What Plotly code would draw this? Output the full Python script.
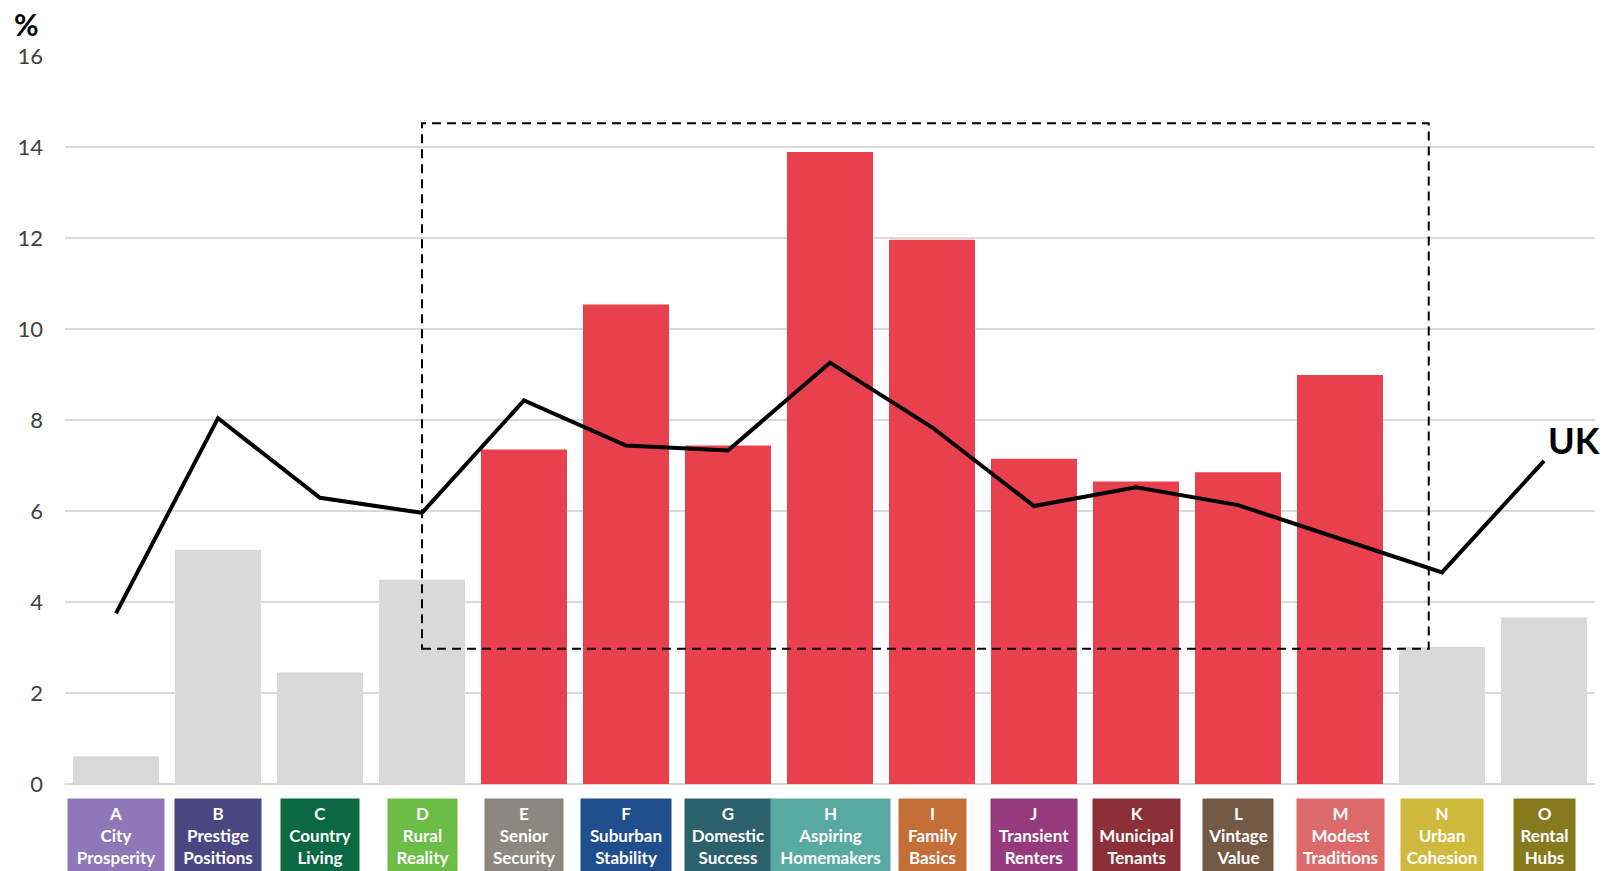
import plotly.graph_objects as go

# ---- data ----
codes = ["A", "B", "C", "D", "E", "F", "G", "H", "I", "J", "K", "L", "M", "N", "O"]
names = ["City<br>Prosperity", "Prestige<br>Positions", "Country<br>Living", "Rural<br>Reality",
         "Senior<br>Security", "Suburban<br>Stability", "Domestic<br>Success", "Aspiring<br>Homemakers",
         "Family<br>Basics", "Transient<br>Renters", "Municipal<br>Tenants", "Vintage<br>Value",
         "Modest<br>Traditions", "Urban<br>Cohesion", "Rental<br>Hubs"]
bar_values = [0.61, 5.15, 2.45, 4.49, 7.35, 10.54, 7.44, 13.89, 11.96, 7.15, 6.65, 6.85, 8.99, 3.01, 3.66]
uk_values = [3.75, 8.04, 6.29, 5.96, 8.43, 7.44, 7.33, 9.26, 7.84, 6.11, 6.52, 6.13, 5.39, 4.65, 7.10]
highlighted = [False, False, False, False, True, True, True, True, True, True, True, True, True, False, False]
y_ticks = [0, 2, 4, 6, 8, 10, 12, 14, 16]
box_x = [3, 12.87]
box_y = [2.97, 14.52]

# ---- styles ----
group_colors = ["#8E78B8", "#4B4582", "#0A6845", "#6CBD45", "#8C8880", "#1F4E8C", "#2C616B",
                "#58AAA0", "#C46F37", "#973A7D", "#8B3036", "#745A45", "#DD6A6A", "#D0BA3E", "#857A1E"]
label_box_widths = [96, 86, 78, 69, 78, 90, 86, 119, 67, 86, 87, 70, 87, 82, 61]
RED = "#E8404C"
GREY = "#D9D9D9"
PAD = 4

x = list(range(len(codes)))
bar_colors = [RED if h else GREY for h in highlighted]

fig = go.Figure()
fig.add_trace(go.Bar(x=x, y=bar_values, marker=dict(color=bar_colors, line=dict(width=0)),
                     showlegend=False, hoverinfo="skip"))
fig.add_trace(go.Scatter(x=x, y=uk_values, mode="lines",
                         line=dict(color="black", width=4), showlegend=False, hoverinfo="skip"))

fig.add_shape(type="rect", xref="x", yref="y", x0=box_x[0], x1=box_x[1], y0=box_y[0], y1=box_y[1],
              line=dict(color="black", width=2, dash="9px,6px"), layer="above")

annotations = []
for i, (c, n, col, w) in enumerate(zip(codes, names, group_colors, label_box_widths)):
    annotations.append(dict(
        x=i, xref="x", y=-0.0192, yref="paper", yanchor="top", xanchor="center",
        text=f"<b>{c}<br>{n}</b>", showarrow=False, align="center",
        font=dict(family="Lato", size=17, color="white"),
        bgcolor=col, borderpad=PAD, width=w - 2 * PAD,
    ))
annotations.append(dict(x=0.008, xref="paper", xanchor="left", y=1.0, yref="paper", yanchor="bottom",
                        xshift=-65, yshift=12, text="<b>%</b>", showarrow=False,
                        font=dict(family="Lato", size=30, color="black")))
annotations.append(dict(x=14.02, xref="x", xanchor="left", y=7.57, yref="y", yanchor="middle",
                        text="<b>UK</b>", showarrow=False,
                        font=dict(family="Lato", size=36, color="black")))

fig.update_layout(
    width=1603, height=871,
    margin=dict(l=65, r=8, t=56, b=87),
    plot_bgcolor="white", paper_bgcolor="white",
    bargap=0.157,
    annotations=annotations,
    xaxis=dict(range=[-0.5, 14.5], showticklabels=False, showgrid=False, zeroline=False,
               showline=False, fixedrange=True),
    yaxis=dict(range=[0, 16], tickvals=y_ticks, showgrid=True, gridcolor=GREY, gridwidth=1.5,
               zeroline=True, zerolinecolor=GREY, zerolinewidth=2, showline=False,
               tickfont=dict(family="Lato", size=22, color="#404040"), ticklabelstandoff=21),
)

fig.write_html("out.html")
